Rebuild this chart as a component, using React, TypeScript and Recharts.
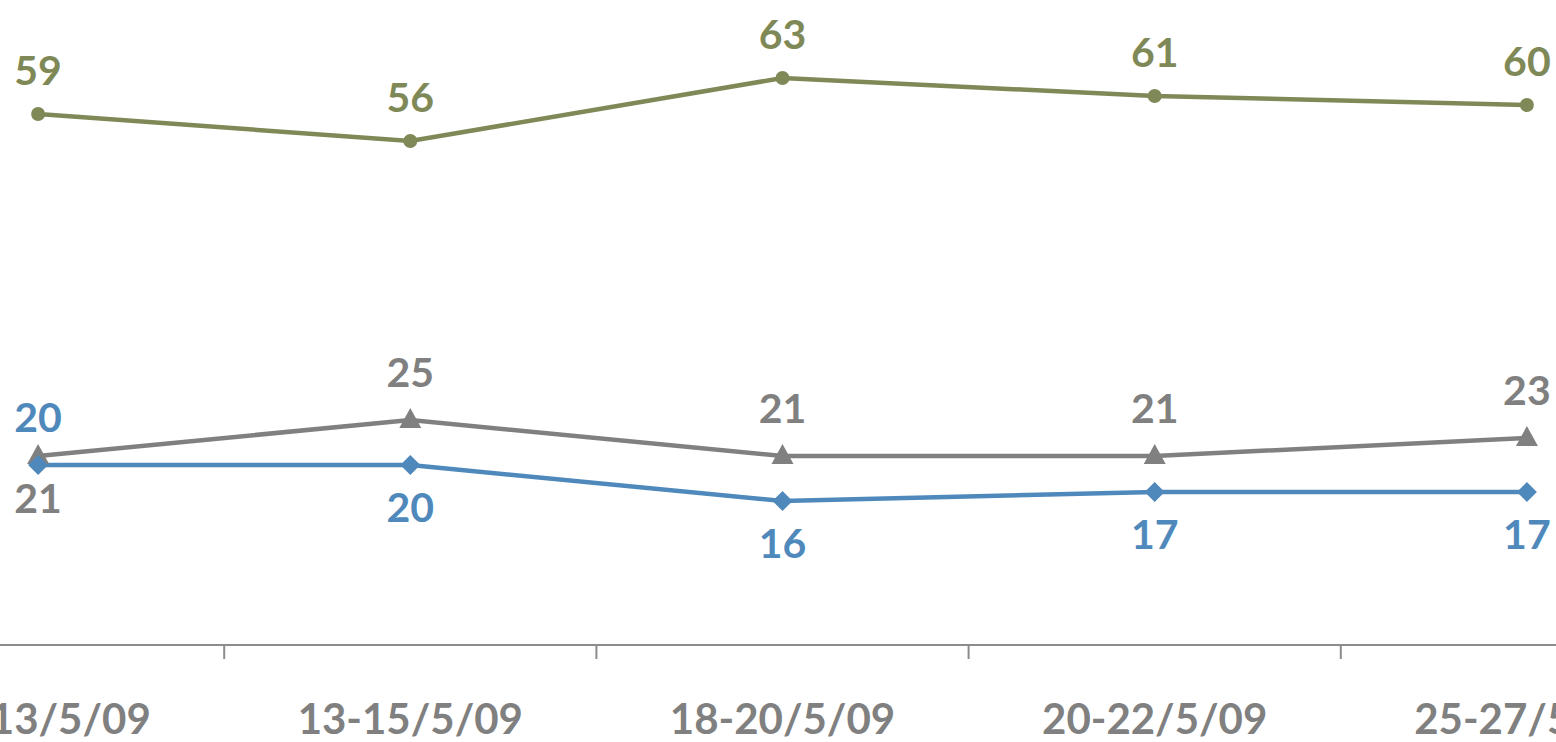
import React from 'react'
import { LineChart, Line, XAxis, YAxis } from 'recharts'

const dates = ['11-13/5/09', '13-15/5/09', '18-20/5/09', '20-22/5/09', '25-27/5/09']
const greenValues = [59, 56, 63, 61, 60]
const greyValues = [21, 25, 21, 21, 23]
const blueValues = [20, 20, 16, 17, 17]
const axisTicks = [0, 0.5, 1, 1.5, 2, 2.5, 3, 3.5, 4]

// which side of the point each value label sits on
const greenSide = ['top', 'top', 'top', 'top', 'top']
const greySide = ['bottom', 'top', 'top', 'top', 'top']
const blueSide = ['top', 'bottom', 'bottom', 'bottom', 'bottom']

const GREEN = '#7F8957'
const GREY = '#808080'
const BLUE = '#4F89BC'
const FONT = 'Lato, "Open Sans", sans-serif'

const chartData = dates.map((d, i) => ({
  idx: i,
  green: greenValues[i],
  grey: greyValues[i],
  blue: blueValues[i],
}))

function makeLabel(color: string, sides: string[], topOffset: number) {
  return function ValueLabel(props: any) {
    const { x, y, value, index } = props
    if (x == null || y == null) return null
    const dy = sides[index] === 'top' ? topOffset : 57
    return (
      <text x={x} y={y + dy} textAnchor="middle" fill={color} fontSize={41} fontWeight={700} fontFamily={FONT}>
        {value}
      </text>
    )
  }
}

function CircleDot({ cx, cy }: any) {
  if (cx == null || cy == null) return null
  return <circle cx={cx} cy={cy} r={7} fill={GREEN} />
}

function TriangleDot({ cx, cy }: any) {
  if (cx == null || cy == null) return null
  return <path d={`M${cx},${cy - 12} L${cx + 11},${cy + 8} L${cx - 11},${cy + 8} Z`} fill={GREY} />
}

function DiamondDot({ cx, cy }: any) {
  if (cx == null || cy == null) return null
  return <path d={`M${cx},${cy - 10} L${cx + 10},${cy} L${cx},${cy + 10} L${cx - 10},${cy} Z`} fill={BLUE} />
}

function AxisTick({ x, y, payload }: any) {
  const v = payload.value as number
  if (Number.isInteger(v)) {
    return (
      <text x={x} y={y + 89} textAnchor="middle" fill={GREY} fontSize={42} fontWeight={700} fontFamily={FONT}>
        {dates[v]}
      </text>
    )
  }
  return <line x1={x} x2={x} y1={y} y2={y + 14} stroke="#8C8C8C" strokeWidth={2} />
}

export default function App(): React.ReactElement {
  return (
    <div style={{ position: 'fixed', left: 0, top: 0, width: 1556, height: 742, overflow: 'hidden', background: '#fff' }}>
      <div style={{ position: 'absolute', left: -148, top: 0 }}>
        <LineChart width={1861} height={742} data={chartData} margin={{ top: 15, right: 0, bottom: 0, left: 0 }}>
          <XAxis
            dataKey="idx"
            type="number"
            domain={[-0.5, 4.5]}
            ticks={axisTicks}
            interval={0}
            height={97}
            tickLine={false}
            tickSize={0}
            tickMargin={0}
            axisLine={{ stroke: '#8C8C8C', strokeWidth: 2 }}
            tick={<AxisTick />}
          />
          <YAxis hide domain={[0, 70]} />
          <Line
            type="linear"
            dataKey="grey"
            stroke={GREY}
            strokeWidth={4.5}
            dot={<TriangleDot />}
            activeDot={false}
            isAnimationActive={false}
            label={makeLabel(GREY, greySide, -33)}
          />
          <Line
            type="linear"
            dataKey="blue"
            stroke={BLUE}
            strokeWidth={4.5}
            dot={<DiamondDot />}
            activeDot={false}
            isAnimationActive={false}
            label={makeLabel(BLUE, blueSide, -33)}
          />
          <Line
            type="linear"
            dataKey="green"
            stroke={GREEN}
            strokeWidth={4.5}
            dot={<CircleDot />}
            activeDot={false}
            isAnimationActive={false}
            label={makeLabel(GREEN, greenSide, -29)}
          />
        </LineChart>
      </div>
    </div>
  )
}
